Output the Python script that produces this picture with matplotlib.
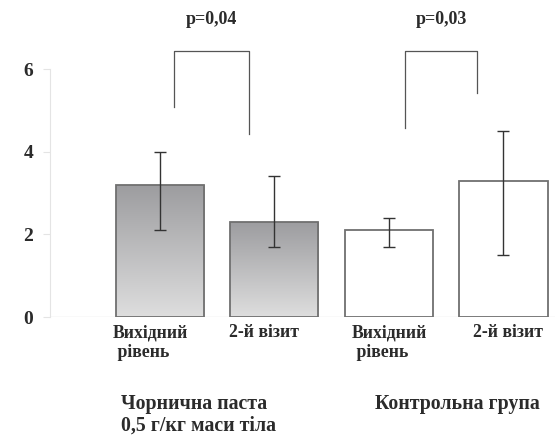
import numpy as np
import matplotlib
matplotlib.use("Agg")
from matplotlib import pyplot as plt
from matplotlib.colors import LinearSegmentedColormap

plt.rcParams['font.family'] = ['Liberation Serif', 'DejaVu Serif']
plt.rcParams['font.weight'] = 'bold'

categories = ['Вихідний\n рівень', '2-й візит', 'Вихідний\n рівень', '2-й візит']
means = [3.2, 2.3, 2.1, 3.3]
ci_low = [2.1, 1.7, 1.7, 1.5]
ci_high = [4.0, 3.4, 2.4, 4.5]
groups = ['Чорнична паста\n0,5 г/кг маси тіла', 'Контрольна група']
p_values = ['p=0,04', 'p=0,03']

text_color = '#2b2b2b'
W, H = 555, 436

fig = plt.figure(figsize=(W / 100, H / 100), dpi=100)
ax = fig.add_axes([50 / W, (H - 317) / H, 505 / W, 248 / H])

x = np.arange(len(means))
means = np.array(means)
yerr = [means - np.array(ci_low), np.array(ci_high) - means]

bars = ax.bar(x, means, width=0.77, color='white', edgecolor='#707070', linewidth=1.3, zorder=2)

# gradient fill for the blueberry-paste group
cmap = LinearSegmentedColormap.from_list('g', ['#dedede', '#9c9c9f'])
grad = np.linspace(0.0, 1.0, 256).reshape(-1, 1)
for b in list(bars)[:2]:
    x0, w, h = b.get_x(), b.get_width(), b.get_height()
    im = ax.imshow(grad, cmap=cmap, extent=[x0, x0 + w, 0, h], origin='lower',
                   aspect='auto', zorder=2)
    im.set_clip_path(b)
    b.set_facecolor('none')
    b.set_zorder(3)

ax.errorbar(x, means, yerr=yerr, fmt='none', ecolor='#333333', elinewidth=1.0,
            capsize=4, capthick=1.0, zorder=4)

ax.set_xlim(-0.957, 3.45)
ax.set_ylim(0, 6)
ax.set_yticks([0, 2, 4, 6])
ax.set_xticks([])
for s in ['top', 'right', 'bottom']:
    ax.spines[s].set_visible(False)
ax.spines['left'].set_color('#e4e4e4')
ax.axhline(0, color='#e4e4e4', linewidth=1, zorder=1)
ax.tick_params(axis='y', length=5, color='#e4e4e4', pad=7, labelsize=14, labelcolor=text_color)

# significance brackets
brackets = [(0.125, 0.78, 5.08, 4.42), (2.14, 2.77, 4.58, 5.42)]
top = 6.44
for (xl, xr, yl, yr), p in zip(brackets, p_values):
    ax.plot([xl, xl, xr, xr], [yl, top, top, yr], color='#555555', linewidth=0.9,
            clip_on=False, zorder=1)
    fig.text(((xl + xr) / 2 + 0.957) / 4.407 * 505 / W + 50 / W, (H - 20) / H, p,
             ha='center', va='center', fontsize=13, color=text_color)

label_x = [113, 229, 352, 473]
for lx, lab in zip(label_x, categories):
    fig.text(lx / W, (H - 324) / H, lab, ha='left', va='top', fontsize=12.8,
             color=text_color, linespacing=1.2)

fig.text(121 / W, (H - 394) / H, groups[0], ha='left', va='top', fontsize=14.3,
         color=text_color, linespacing=1.1)
fig.text(375 / W, (H - 394) / H, groups[1], ha='left', va='top', fontsize=14.3,
         color=text_color)

fig.savefig('out.png', dpi=100)
